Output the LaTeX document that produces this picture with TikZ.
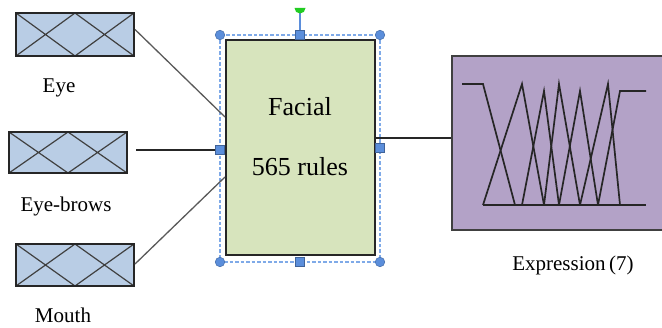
\documentclass[tikz,border=0pt]{standalone}
\usepackage{fontspec}
\setmainfont{Liberation Serif}
\definecolor{boxblue}{HTML}{B9CDE5}
\definecolor{facegreen}{HTML}{D7E4BD}
\definecolor{outpurple}{HTML}{B3A2C7}
\definecolor{handleblue}{HTML}{5B8EDB}
\definecolor{selblue}{HTML}{7FAAE8}
\definecolor{rotgreen}{HTML}{22CC22}
\tikzset{
  inbox/.style={draw=black!85, line width=2pt, fill=boxblue, minimum width=118pt, minimum height=43pt, inner sep=0pt,
    path picture={
      \draw[line width=1.2pt, black!75]
        (path picture bounding box.north west) -- (path picture bounding box.south) -- (path picture bounding box.north east)
        (path picture bounding box.south west) -- (path picture bounding box.north) -- (path picture bounding box.south east);
    }},
  lbl/.style={font=\fontsize{21}{24}\selectfont, inner sep=0pt},
  conn/.style={draw=black!65, line width=1.3pt},
  sqhandle/.style={draw=handleblue!70!black, fill=handleblue, minimum size=9.5pt, inner sep=0pt, line width=0.7pt},
  cirhandle/.style={circle, draw=handleblue!80!black, fill=handleblue, minimum size=9.5pt, inner sep=0pt, line width=0.6pt},
  mf/.style={draw=black!85, line width=1.7pt, line join=miter}
}
\begin{document}
\begin{tikzpicture}[x=1pt, y=-1pt]
\useasboundingbox (0,0) rectangle (662,328);
% inputs
\node[inbox] (eye) at (75,34.5) {};
\node[inbox, minimum height=41pt] (brows) at (68,152.5) {};
\node[inbox, minimum height=42pt] (mouth) at (75,265) {};
\node[lbl] (eyel) at (59,88) {Eye};
\node[lbl] (browsl) at (66,206) {Eye-brows};
\node[lbl] (mouthl) at (63,315) {Mouth};
% output box
\node[draw=black!75, line width=2pt, fill=outpurple, minimum width=216pt, minimum height=174pt, inner sep=0pt] (out) at (560,143) {};
\node[lbl] (outl) at (573,265) {Expression\,(7)};
% facial box
\node[draw=black!85, line width=2pt, fill=facegreen, minimum width=149pt, minimum height=215pt, inner sep=0pt] (facial) at (300.5,147.5) {};
\node[font=\fontsize{26}{30}\selectfont, inner sep=0pt] (ft1) at (300,107) {Facial};
\node[font=\fontsize{26}{30}\selectfont, inner sep=0pt] (ft2) at (300,167) {565 rules};
% selection frame
\draw[selblue, line width=1.2pt, dash pattern=on 3.5pt off 2pt] (220,35) rectangle (380,262);
\draw[handleblue, line width=1.3pt] (300,10) -- (300,31);
\fill[rotgreen] (294.5,8) arc[start angle=180, end angle=360, radius=5.5pt] -- cycle;
\node[sqhandle] (ht) at (300,35) {};
\node[sqhandle] (hb) at (300,262) {};
\node[sqhandle] (hl) at (220,150) {};
\node[sqhandle] (hr) at (380,148) {};
\node[cirhandle] (c1) at (220,35) {};
\node[cirhandle] (c2) at (380,35) {};
\node[cirhandle] (c3) at (220,262) {};
\node[cirhandle] (c4) at (380,262) {};
% connectors
\draw[conn] ([yshift=5pt]eye.east) -- ([yshift=30.5pt]facial.west);
\draw[conn, draw=black!85] ([xshift=8pt, yshift=2.5pt]brows.east) -- (hl.west);
\draw[conn] ([yshift=1pt]mouth.east) -- ([yshift=-29.5pt]facial.west);
\draw[conn, draw=black!85] ([yshift=9.5pt]facial.east) -- ([yshift=9.5pt]facial.east -| out.west);
% membership functions
\draw[mf] (483,205) -- (646,205);
\draw[mf] (462,84) -- (483,84) -- (515,205);
\draw[mf] (483,205) -- (522,84) -- (544,205);
\draw[mf] (522,205) -- (544,91) -- (559,205);
\draw[mf] (544,205) -- (559,84) -- (580,205);
\draw[mf] (559,205) -- (580,91) -- (598,205);
\draw[mf] (580,205) -- (608,84) -- (620,205);
\draw[mf] (598,205) -- (620,91) -- (646,91);
\end{tikzpicture}
\end{document}
